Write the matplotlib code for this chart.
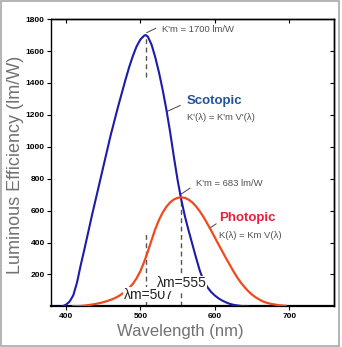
import matplotlib
matplotlib.use("Agg")
import matplotlib.pyplot as plt
from matplotlib.patches import Rectangle

# Scotopic luminous efficiency K'(λ) in lm/W
scot_wl = [395, 400, 405, 410, 415, 420, 425, 430, 435, 440, 445, 450, 455, 460,
           465, 470, 475, 480, 485, 490, 495, 500, 505, 507, 510, 515, 520, 525,
           530, 535, 540, 545, 550, 555, 560, 565, 570, 575, 580, 585, 590, 595,
           600, 605, 610, 615, 620, 625, 630, 635, 640, 645]
scot_k = [0, 10, 30, 70, 150, 260, 360, 465, 570, 670, 770, 870, 970, 1070,
          1160, 1250, 1335, 1420, 1500, 1570, 1630, 1672, 1696, 1700, 1690, 1640, 1560, 1465,
          1355, 1230, 1090, 935, 790, 665, 560, 470, 385, 300, 220, 160, 120, 90,
          68, 50, 36, 25, 16, 10, 6, 3, 1, 0]

# Photopic luminous efficiency K(λ) in lm/W
phot_wl = [410, 415, 420, 425, 430, 435, 440, 445, 450, 455, 460, 465, 470, 475,
           480, 485, 490, 495, 500, 505, 510, 515, 520, 525, 530, 535, 540, 545,
           550, 555, 560, 565, 570, 575, 580, 585, 590, 595, 600, 605, 610, 615,
           620, 625, 630, 635, 640, 645, 650, 655, 660, 665, 670, 675, 680, 685,
           690, 695]
phot_k = [0.8, 1.5, 2.7, 5, 8, 11.5, 15.7, 20.4, 26, 32.8, 41, 50.5, 62, 77,
          95, 116, 142, 177, 221, 278, 344, 415, 485, 542, 589, 625, 652, 670,
          680, 683, 680, 668, 650, 625, 594, 558, 517, 475, 431, 387, 344, 301,
          260, 219, 181, 148, 120, 94, 73, 56, 42, 30, 22, 16, 12, 8,
          5.6, 4]

scot_peak_wl, scot_peak_k = 507, 1700
phot_peak_wl, phot_peak_k = 555, 683

x_ticks = [400, 500, 600, 700]
y_ticks = [200, 400, 600, 800, 1000, 1200, 1400, 1600, 1800]

BLUE = "#1c1caa"
RED = "#f04a1c"
GRAY_TXT = "#505050"

fig = plt.figure(figsize=(3.42, 3.47), dpi=100)
fig.patches.append(Rectangle((0.002, 0.004), 0.989, 0.992, transform=fig.transFigure,
                             fill=False, edgecolor="#a8a8a8", linewidth=1.2))
ax = fig.add_axes([0.149, 0.117, 0.828, 0.828])

ax.plot(scot_wl, scot_k, color=BLUE, lw=1.5, zorder=3, solid_joinstyle="round")
ax.plot(phot_wl, phot_k, color=RED, lw=1.6, zorder=3, solid_joinstyle="round")

# peak markers
dash = dict(color="#555555", lw=1.0, ls=(0, (3.5, 2.5)), zorder=2)
ax.plot([scot_peak_wl, scot_peak_wl], [1440, 1690], **dash)
ax.plot([scot_peak_wl, scot_peak_wl], [0, 460], **dash)
ax.plot([phot_peak_wl, phot_peak_wl], [0, phot_peak_k], **dash)

ax.set_xlim(380, 760)
ax.set_ylim(0, 1800)

ax.set_xticks(x_ticks)
ax.set_yticks(y_ticks)
tick_font = dict(family="Liberation Sans", weight="bold", size=6)
ax.set_xticklabels([str(v) for v in x_ticks], **tick_font)
ax.set_yticklabels([str(v) for v in y_ticks], **tick_font)
ax.tick_params(axis="both", direction="out", length=3, width=0.8, pad=1.5)
ax.tick_params(axis="both", which="both", top=False, right=False)

# inward ticks on the top and right frame
sec_x = ax.secondary_xaxis("top")
sec_x.set_xticks(x_ticks)
sec_x.set_xticklabels([])
sec_x.tick_params(direction="in", length=3, width=0.8)
sec_y = ax.secondary_yaxis("right")
sec_y.set_yticks(y_ticks[:-1])
sec_y.set_yticklabels([])
sec_y.tick_params(direction="in", length=3, width=0.8)
for sp in list(ax.spines.values()) + [sec_x.spines["top"], sec_y.spines["right"]]:
    sp.set_linewidth(1.0)
ax.spines["bottom"].set_linewidth(1.6)

fig.text(0.526, 0.044, "Wavelength (nm)", family="Liberation Sans", size=12,
         color="#727272", ha="center", va="center")
fig.text(0.044, 0.524, "Luminous Efficiency (lm/W)", family="Liberation Sans", size=13,
         color="#727272", ha="center", va="center", rotation=90)

small = dict(family="Liberation Sans", size=6.8, color=GRAY_TXT)
leader = dict(color="#444444", lw=0.7)

# scotopic annotations
ax.plot([508.5, 520.5], [1715, 1742], **leader)
ax.text(529, 1735, "K'm = 1700 lm/W", va="center", ha="left", **small)
ax.plot([535.6, 553.5], [1221, 1259], **leader)
ax.text(562, 1284, "Scotopic", family="Liberation Sans", weight="bold", size=9.5,
        color="#245498", va="center", ha="left")
ax.text(562, 1181, "K'(λ) = K'm V'(λ)", va="center", ha="left", **small)

# photopic annotations
ax.plot([553.3, 566.6], [699, 741], **leader)
ax.text(575, 768, "K'm = 683 lm/W", va="center", ha="left", **small)
ax.plot([593.6, 601.6], [492, 517], **leader)
ax.text(606, 555, "Photopic", family="Liberation Sans", weight="bold", size=9.5,
        color="#e8203c", va="center", ha="left")
ax.text(606, 443, "K(λ) = Km V(λ)", va="center", ha="left", **small)

# wavelength of maximum labels
lab = dict(family="Liberation Sans", size=10, color="#222222", va="center", ha="left",
           bbox=dict(facecolor="white", edgecolor="none", pad=0.3), zorder=4)
ax.text(477.5, 73, "λm=507", **lab)
ax.text(522, 145, "λm=555", **lab)

fig.savefig("out.png", dpi=100)
